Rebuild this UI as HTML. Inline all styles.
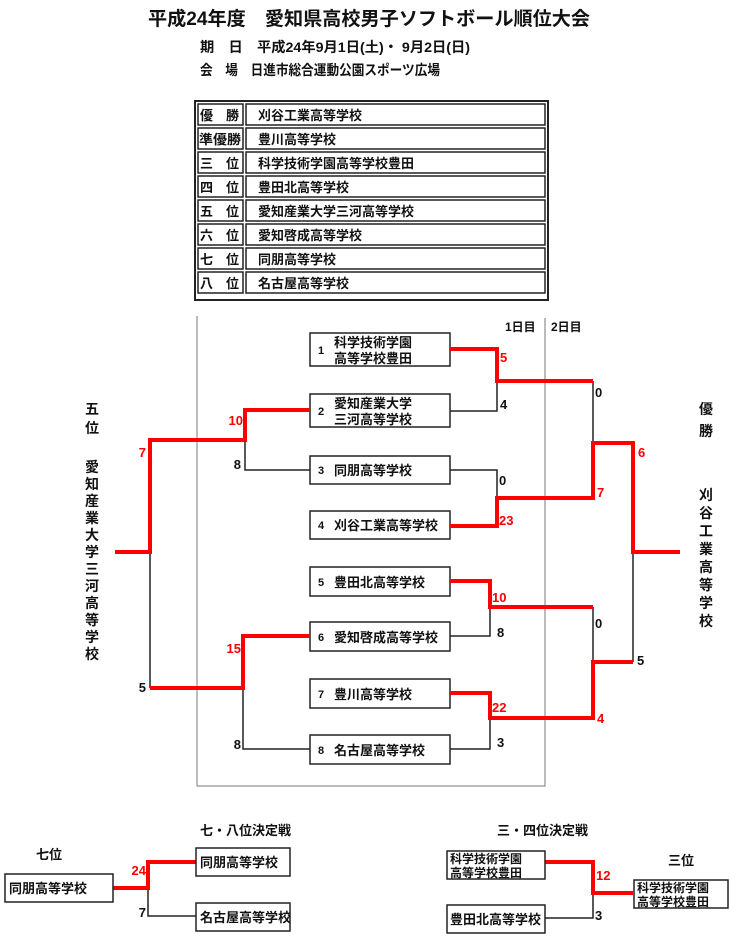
<!DOCTYPE html>
<html><head><meta charset="utf-8"><style>
html,body{margin:0;padding:0;background:#fff;}
svg{display:block;}
text{font-family:"Liberation Sans","Noto Sans CJK JP",sans-serif;font-weight:bold;}
</style></head><body>
<svg width="730" height="940" viewBox="0 0 730 940" xmlns="http://www.w3.org/2000/svg">
<g fill="#111">
<text x="148" y="25" font-size="19" textLength="442" lengthAdjust="spacingAndGlyphs">平成24年度　愛知県高校男子ソフトボール順位大会</text>
<text x="200" y="52" font-size="14" textLength="270" lengthAdjust="spacingAndGlyphs">期　日　平成24年9月1日(土)・ 9月2日(日)</text>
<text x="200" y="75" font-size="14" textLength="240" lengthAdjust="spacingAndGlyphs">会　場　日進市総合運動公園スポーツ広場</text>
</g>
<!-- table -->
<rect x="195" y="101" width="353" height="199" fill="none" stroke="#222" stroke-width="2"/>
<g fill="none" stroke="#222" stroke-width="1.5">
<rect x="198" y="104" width="45" height="21"/><rect x="246" y="104" width="299" height="21"/>
<rect x="198" y="128" width="45" height="21"/><rect x="246" y="128" width="299" height="21"/>
<rect x="198" y="152" width="45" height="21"/><rect x="246" y="152" width="299" height="21"/>
<rect x="198" y="176" width="45" height="21"/><rect x="246" y="176" width="299" height="21"/>
<rect x="198" y="200" width="45" height="21"/><rect x="246" y="200" width="299" height="21"/>
<rect x="198" y="224" width="45" height="21"/><rect x="246" y="224" width="299" height="21"/>
<rect x="198" y="248" width="45" height="21"/><rect x="246" y="248" width="299" height="21"/>
<rect x="198" y="272" width="45" height="21"/><rect x="246" y="272" width="299" height="21"/>
</g>
<g fill="#111" font-size="13">
<text x="200" y="120">優　勝</text><text x="258" y="120">刈谷工業高等学校</text>
<text x="199" y="144" textLength="42" lengthAdjust="spacingAndGlyphs">準優勝</text><text x="258" y="144">豊川高等学校</text>
<text x="200" y="168">三　位</text><text x="258" y="168">科学技術学園高等学校豊田</text>
<text x="200" y="192">四　位</text><text x="258" y="192">豊田北高等学校</text>
<text x="200" y="216">五　位</text><text x="258" y="216">愛知産業大学三河高等学校</text>
<text x="200" y="240">六　位</text><text x="258" y="240">愛知啓成高等学校</text>
<text x="200" y="264">七　位</text><text x="258" y="264">同朋高等学校</text>
<text x="200" y="288">八　位</text><text x="258" y="288">名古屋高等学校</text>
</g>
<!-- frame -->
<path d="M197 316 V786 H545 V318" fill="none" stroke="#777" stroke-width="1"/>
<g fill="#111" font-size="12"><text x="505" y="331">1日目</text><text x="551" y="331">2日目</text></g>
<!-- boxes -->
<g fill="none" stroke="#222" stroke-width="1.5">
<rect x="310" y="333" width="140" height="33"/>
<rect x="310" y="394" width="140" height="33"/>
<rect x="310" y="456" width="140" height="28"/>
<rect x="310" y="511" width="140" height="28"/>
<rect x="310" y="567" width="140" height="29"/>
<rect x="310" y="622" width="140" height="29"/>
<rect x="310" y="679" width="140" height="29"/>
<rect x="310" y="735" width="140" height="29"/>
</g>
<g fill="#111" font-size="13">
<text x="318" y="354" font-size="11">1</text><text x="334" y="347">科学技術学園</text><text x="334" y="363">高等学校豊田</text>
<text x="318" y="415" font-size="11">2</text><text x="334" y="408">愛知産業大学</text><text x="334" y="424">三河高等学校</text>
<text x="318" y="474" font-size="11">3</text><text x="334" y="475">同朋高等学校</text>
<text x="318" y="529" font-size="11">4</text><text x="334" y="530">刈谷工業高等学校</text>
<text x="318" y="586" font-size="11">5</text><text x="334" y="587">豊田北高等学校</text>
<text x="318" y="641" font-size="11">6</text><text x="334" y="642">愛知啓成高等学校</text>
<text x="318" y="698" font-size="11">7</text><text x="334" y="699">豊川高等学校</text>
<text x="318" y="754" font-size="11">8</text><text x="334" y="755">名古屋高等学校</text>
</g>
<!-- black lines -->
<g fill="none" stroke="#222" stroke-width="1.5">
<path d="M450 411 H497 V381"/>
<path d="M450 470 H497 V498"/>
<path d="M593 381 V443"/>
<path d="M450 636 H490 V607"/>
<path d="M450 749 H490 V718"/>
<path d="M593 607 V662"/>
<path d="M633 662 V552"/>
<path d="M310 470 H245 V440"/>
<path d="M150 552 V688"/>
<path d="M310 749 H243 V688"/>
<path d="M148 888 V916 H196"/>
<path d="M545 918 H593 V893"/>
</g>
<!-- red lines -->
<g fill="none" stroke="#f00" stroke-width="4">
<path d="M450 349 H497 V381 H593"/>
<path d="M450 526 H497 V498 H593 V443 H633 V552 H680"/>
<path d="M450 581 H490 V607 H593"/>
<path d="M450 693 H490 V718 H593 V662 H633"/>
<path d="M310 410 H245 V440 H150 V552 H115"/>
<path d="M150 688 H243 V636 H310"/>
<path d="M113 888 H148 V862 H196"/>
<path d="M545 862 H593 V893 H633"/>
</g>
<!-- scores -->
<g font-size="13" fill="#f00">
<text x="500" y="362">5</text><text x="499" y="525">23</text>
<text x="597" y="497">7</text><text x="638" y="457">6</text>
<text x="492" y="602">10</text><text x="492" y="712">22</text>
<text x="597" y="723">4</text>
<text x="243" y="425" text-anchor="end">10</text><text x="146" y="457" text-anchor="end">7</text>
<text x="241" y="653" text-anchor="end">15</text>
<text x="146" y="875" text-anchor="end">24</text>
<text x="596" y="880">12</text>
</g>
<g font-size="13" fill="#111">
<text x="500" y="409">4</text><text x="499" y="485">0</text>
<text x="595" y="397">0</text><text x="497" y="637">8</text><text x="497" y="747">3</text>
<text x="595" y="628">0</text><text x="637" y="665">5</text>
<text x="241" y="469" text-anchor="end">8</text>
<text x="146" y="692" text-anchor="end">5</text>
<text x="241" y="749" text-anchor="end">8</text>
<text x="146" y="917" text-anchor="end">7</text>
<text x="595" y="920">3</text>
</g>
<!-- side labels -->
<g font-size="14" fill="#111" text-anchor="middle">
<text x="92" y="414">五</text><text x="92" y="433">位</text>
<text x="92" y="472">愛</text><text x="92" y="489">知</text><text x="92" y="506">産</text><text x="92" y="523">業</text><text x="92" y="540">大</text><text x="92" y="557">学</text><text x="92" y="574">三</text><text x="92" y="591">河</text><text x="92" y="608">高</text><text x="92" y="625">等</text><text x="92" y="642">学</text><text x="92" y="659">校</text>
<text x="706" y="414">優</text><text x="706" y="436">勝</text>
<text x="706" y="500">刈</text><text x="706" y="518">谷</text><text x="706" y="536">工</text><text x="706" y="554">業</text><text x="706" y="572">高</text><text x="706" y="590">等</text><text x="706" y="608">学</text><text x="706" y="626">校</text>
</g>
<!-- bottom -->
<g fill="#111" font-size="13">
<text x="200" y="835">七・八位決定戦</text>
<text x="497" y="835">三・四位決定戦</text>
<text x="36" y="859">七位</text>
<text x="668" y="865">三位</text>
</g>
<g fill="none" stroke="#222" stroke-width="1.5">
<rect x="5" y="874" width="108" height="28"/>
<rect x="196" y="848" width="94" height="28"/>
<rect x="196" y="903" width="94" height="28"/>
<rect x="447" y="851" width="98" height="28"/>
<rect x="447" y="905" width="98" height="28"/>
<rect x="634" y="880" width="94" height="28"/>
</g>
<g fill="#111" font-size="13">
<text x="9" y="893">同朋高等学校</text>
<text x="200" y="867">同朋高等学校</text>
<text x="200" y="922">名古屋高等学校</text>
<text x="450" y="863" font-size="12">科学技術学園</text><text x="450" y="877" font-size="12">高等学校豊田</text>
<text x="450" y="924">豊田北高等学校</text>
<text x="637" y="892" font-size="12">科学技術学園</text><text x="637" y="906" font-size="12">高等学校豊田</text>
</g>
</svg>
</body></html>
